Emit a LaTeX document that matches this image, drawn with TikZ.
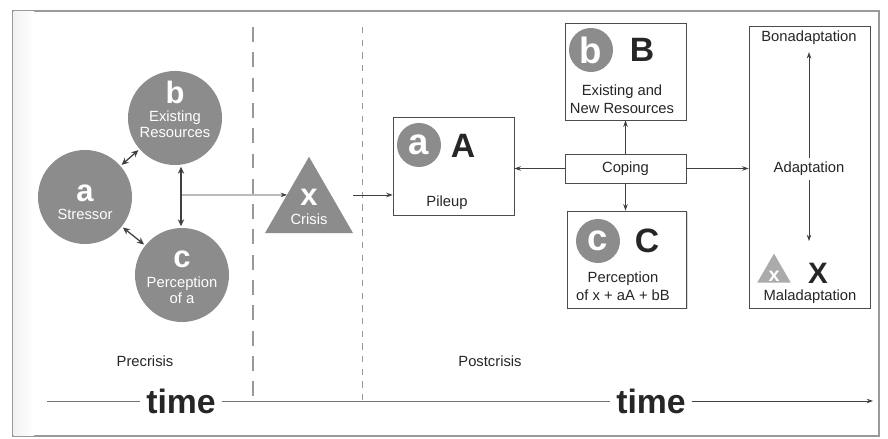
\documentclass[tikz,border=0pt]{standalone}
\usepackage{fontspec}
\setmainfont{Liberation Sans}
\usetikzlibrary{positioning, arrows.meta, shapes.geometric, calc, shadows}

\definecolor{blobgray}{HTML}{8C8C8C}
\definecolor{lightblob}{HTML}{ABABAB}
\definecolor{linegray}{HTML}{404040}
\definecolor{framegray}{HTML}{9A9A9A}

\newcommand{\bigletter}{\fontsize{22}{22}\selectfont\bfseries}
\newcommand{\boxletter}{\fontsize{26}{26}\selectfont\bfseries}
\newcommand{\capletter}{\fontsize{24}{24}\selectfont\bfseries}
\newcommand{\smalltext}{\fontsize{10.5}{11.5}\selectfont}
\newcommand{\boxtext}{\fontsize{10.5}{13}\selectfont}
\newcommand{\timetext}{\fontsize{24}{24}\selectfont\bfseries}

\begin{document}
\begin{tikzpicture}[
    x=0.025cm, y=-0.025cm,
    blob/.style={circle, fill=blobgray, minimum size=2.35cm, inner sep=0pt},
    dot/.style={circle, fill=blobgray, minimum size=1.1cm, inner sep=0pt},
    tri/.style={regular polygon, regular polygon sides=3, fill=blobgray, minimum size=2.54cm, inner sep=0pt, outer sep=0pt},
    bigwhite/.style={text=white, font=\bigletter, inner sep=0pt},
    boxwhite/.style={text=white, font=\boxletter, inner sep=0pt},
    capl/.style={text=black!85, font=\capletter, inner sep=0pt},
    blobtext/.style={text=white, align=center, font=\smalltext, inner sep=0pt},
    caption/.style={text=black!85, align=center, font=\boxtext, inner sep=0pt},
    box/.style={draw=black!70, fill=white, line width=0.6pt, minimum width=3.025cm, inner sep=0pt,
        drop shadow={shadow xshift=1pt, shadow yshift=-1pt, opacity=0.3}},
    arr/.style={-{Stealth[length=4.5pt, width=3.2pt]}, draw=linegray, line width=0.5pt},
    dbl/.style={{Stealth[length=5pt, width=4.5pt]}-{Stealth[length=5pt, width=4.5pt]}, draw=linegray, line width=0.9pt, shorten <=1pt, shorten >=1pt},
    sep/.style={draw=black!40, line width=0.8pt},
    tline/.style={draw=black!55, line width=0.6pt}
]
    \useasboundingbox (0,0) rectangle (888,439);
    \draw[draw=framegray, line width=0.8pt, fill=white, drop shadow={shadow xshift=0.6pt, shadow yshift=-0.8pt, opacity=0.35}] (13,11) rectangle (879,436);
    \shade[left color=black!5, right color=white] (13.6,11.6) rectangle (34,435.4);

    \draw[sep, dash pattern=on 10.5pt off 7.5pt] (253,27) -- (253,401);
    \draw[sep, dash pattern=on 4.5pt off 4.5pt, line width=0.6pt] (362,27) -- (362,401);

    \node[blob] (a) at (85,197) {};
    \node[blob] (b) at (175,118) {};
    \node[blob] (c) at (182,275) {};
    \node[bigwhite] (la) at (85,193) {a};
    \node[blobtext] (ta) at (85,214) {Stressor};
    \node[bigwhite] (lb) at (175,92) {b};
    \node[blobtext] (tb) at (175,124) {Existing\\Resources};
    \node[bigwhite] (lc) at (182,259) {c};
    \node[blobtext] (tc) at (182,290) {Perception\\of a};

    \node[tri] (crisis) at (309,207.6) {};
    \node[bigwhite] (lx) at (309,197) {x};
    \node[blobtext] (tx) at (309,219) {Crisis};

    \coordinate (hub) at (181,195);
    \draw[dbl] (a) -- (b);
    \draw[dbl] (a) -- (c);
    \draw[dbl] (hub |- b.south) -- (hub |- c.north);
    \draw[arr] (hub) -- (crisis.side 1);

    \node[box, minimum height=2.45cm] (pile) at (453.5,166) {};
    \node[dot] (pa) at (419,145) {};
    \node[boxwhite] (pal) at (pa) {a};
    \node[capl] (pA) at (463,146) {A};
    \node[caption] (pcap) at (447,203) {Pileup};

    \node[box, minimum height=2.425cm] (res) at (625.5,71.5) {};
    \node[dot] (rb) at (591,50) {};
    \node[boxwhite] (rbl) at (rb) {b};
    \node[capl] (rB) at (642,50) {B};
    \node[caption] (rcap) at (622,99) {Existing and\\New Resources};

    \node[box, minimum height=0.725cm, font=\boxtext, text=black!85] (cope) at (625.5,168.5) {Coping};

    \node[box, minimum width=2.975cm, minimum height=2.425cm] (perc) at (627,259.5) {};
    \node[dot] (pc) at (598,241) {};
    \node[boxwhite] (pcl) at (pc) {c};
    \node[capl] (pC) at (647,241) {C};
    \node[caption] (ccap) at (623,286) {Perception\\of x + aA + bB};

    \node[box, minimum height=7.05cm] (adapt) at (809.5,167) {};
    \node[caption, inner sep=2pt] (bona) at (809,38) {Bonadaptation};
    \node[caption, inner sep=3pt] (adlab) at (809,169) {Adaptation};
    \coordinate (maltop) at (809,241);
    \node[tri, fill=lightblob, minimum size=0.97cm] (mtri) at (774,273) {};
    \node[text=white, font=\fontsize{14}{14}\selectfont\bfseries, inner sep=0pt] (mx) at (774,276) {x};
    \node[text=black!85, font=\fontsize{21}{21}\selectfont\bfseries, inner sep=0pt] (mX) at (818,273) {X};
    \node[caption] (mal) at (810,297) {Maladaptation};

    \draw[arr] (crisis.corner 3 |- hub) -- (hub -| pile.west);
    \draw[arr] (cope.west) -- (cope.west -| pile.east);
    \draw[arr] (cope.north) -- (res.south);
    \draw[arr] (cope.south) -- (cope.south |- perc.north);
    \draw[arr] (cope.east) -- (cope.east -| adapt.west);
    \draw[arr, shorten >=3pt] (adlab) -- (bona);
    \draw[arr] (adlab) -- (maltop);

    \node[caption] (pre) at (145,361) {Precrisis};
    \node[caption] (post) at (490,361) {Postcrisis};

    \coordinate (t0) at (47,401);
    \coordinate (t1) at (873,401);
    \node[text=black!85, font=\timetext, inner xsep=4pt, inner ysep=0pt] (time1) at (181,401) {time};
    \node[text=black!85, font=\timetext, inner xsep=4pt, inner ysep=0pt] (time2) at (651,401) {time};
    \draw[tline] (t0) -- (time1);
    \draw[tline] (time1) -- (time2);
    \draw[tline, -{Stealth[length=4.5pt, width=3.2pt]}, draw=linegray] (time2) -- (t1);
\end{tikzpicture}
\end{document}
